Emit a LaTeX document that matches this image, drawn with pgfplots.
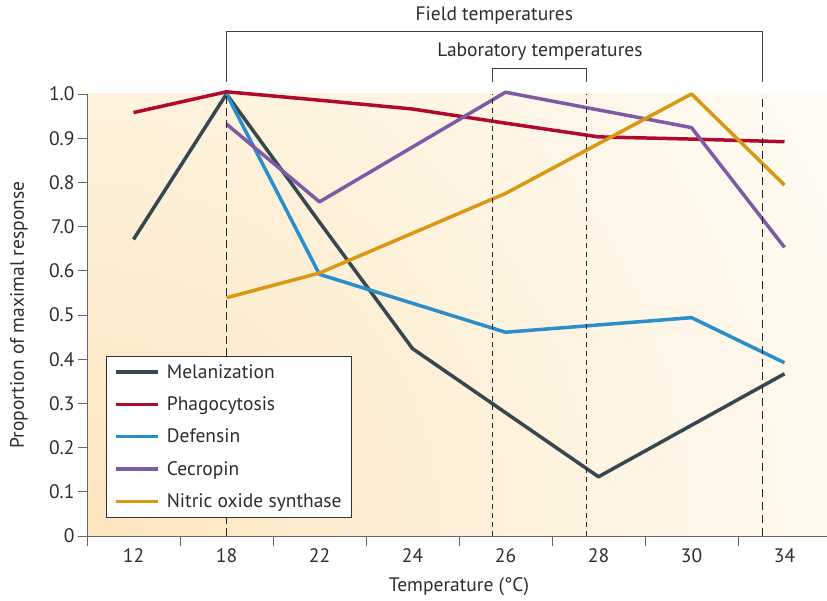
\documentclass[border=0pt]{standalone}
\usepackage{fontspec}
\setmainfont{PT Sans}
\usepackage{pgfplots}
\pgfplotsset{compat=1.18}
\definecolor{mel}{RGB}{55,71,79}
\definecolor{pha}{RGB}{178,10,44}
\definecolor{def}{RGB}{40,142,204}
\definecolor{cec}{RGB}{125,90,166}
\definecolor{nos}{RGB}{218,152,18}
\definecolor{txt}{RGB}{45,45,45}
\definecolor{bga}{RGB}{251,229,190}
\definecolor{bgb}{RGB}{254,242,220}
\definecolor{bgc}{RGB}{255,252,247}
\pgfdeclareradialshading{bgshade}{\pgfpoint{0bp}{0bp}}{color(0bp)=(bga); color(12bp)=(bgb); color(25bp)=(bgc); color(50bp)=(bgc)}
\newcommand{\fs}{\fontsize{19.5}{23}\selectfont}
\begin{document}
\begin{tikzpicture}[x=1pt,y=1pt]
\useasboundingbox (0,0) rectangle (827,600);
\begin{scope}
\clip (87,64) rectangle (831,506);
\shade[shading=bgshade] (87,64) circle (900);
\end{scope}
\begin{axis}[
  at={(87pt,64pt)}, anchor=south west,
  scale only axis, width=744pt, height=442pt,
  xmin=-0.5, xmax=7.5, ymin=0, ymax=1,
  axis x line*=bottom, axis y line*=left,
  axis line style={draw=black!60, line width=0.8pt},
  xtick={0,1,2,3,4,5,6,7},
  xticklabels={12,18,22,24,26,28,30,34},
  major x tick style={draw=none},
  minor xtick={-0.5,0.5,1.5,2.5,3.5,4.5,5.5,6.5},
  minor tick length=10pt,
  major tick length=9pt,
  tick align=outside,
  tick style={draw=black!60, line width=0.8pt},
  ytick={0,0.1,0.2,0.3,0.4,0.5,0.6,0.7,0.8,0.9,1.0},
  yticklabels={0,0.1,0.2,0.3,0.4,0.5,0.6,7.0,0.8,0.9,1.0},
  /pgf/number format/assume math mode=true,
  ticklabel style={font=\fs, text=txt},
  xlabel={Temperature (°C)},
  ylabel={Proportion of maximal response},
  xlabel style={font=\fs, text=txt, at={(rel axis cs:0.5,0)}, anchor=center, yshift=-51pt},
  ylabel style={font=\fs, text=txt, at={(rel axis cs:-0.0914,0.5)}, anchor=center},
  clip=false,
  legend cell align=left,
  legend style={at={(rel axis cs:0.0255,0.0407)}, anchor=south west,
    draw=black!80, line width=0.8pt, fill=white, font=\fs, text=txt,
    inner xsep=8pt, inner ysep=6.5pt, row sep=13pt,
    /tikz/every odd column/.append style={column sep=5pt}},
  legend image code/.code={\draw[#1] (0pt,0pt) -- (42pt,0pt);},
  every axis plot/.append style={line width=3.5pt, line join=round},
]
\addplot[mel] coordinates {(0,0.671)(1,1.0)(2,0.71)(3,0.424)(5,0.134)(7,0.367)};
\addlegendentry{Melanization}
\addplot[pha] coordinates {(0,0.958)(1,1.005)(2,0.986)(3,0.966)(4,0.934)(5,0.903)(6,0.898)(7,0.892)};
\addlegendentry{Phagocytosis}
\addplot[def] coordinates {(1,1.0)(2,0.592)(4,0.461)(6,0.494)(7,0.392)};
\addlegendentry{Defensin}
\addplot[cec] coordinates {(1,0.932)(2,0.756)(4,1.004)(6,0.924)(7,0.653)};
\addlegendentry{Cecropin}
\addplot[nos] coordinates {(1,0.539)(2,0.595)(4,0.775)(6,1.0)(7,0.794)};
\addlegendentry{Nitric oxide synthase}
% reference lines
\draw[black!85, line width=0.7pt, dash pattern=on 8pt off 4pt] (axis cs:1,0) -- (axis cs:1,1);
\draw[black!85, line width=0.7pt, dash pattern=on 5pt off 4pt] (axis cs:3.86,0) -- (axis cs:3.86,1);
\draw[black!85, line width=0.7pt, dash pattern=on 5pt off 4pt] (axis cs:4.87,0) -- (axis cs:4.87,1);
\draw[black!85, line width=0.7pt, dash pattern=on 8pt off 5pt] (axis cs:6.76,0) -- (axis cs:6.76,1);
% brackets
\draw[black!75, line width=0.8pt] (axis cs:1,1.027) -- (axis cs:1,1.141) -- (axis cs:6.76,1.141) -- (axis cs:6.76,1.027);
\draw[black!75, line width=0.8pt] (axis cs:3.86,1.027) -- (axis cs:3.86,1.059) -- (axis cs:4.87,1.059) -- (axis cs:4.87,1.027);
\node[font=\fs, text=txt] at (axis cs:3.88,1.177) {Field temperatures};
\node[font=\fs, text=txt] at (axis cs:4.37,1.095) {Laboratory temperatures};
\end{axis}
\end{tikzpicture}
\end{document}
